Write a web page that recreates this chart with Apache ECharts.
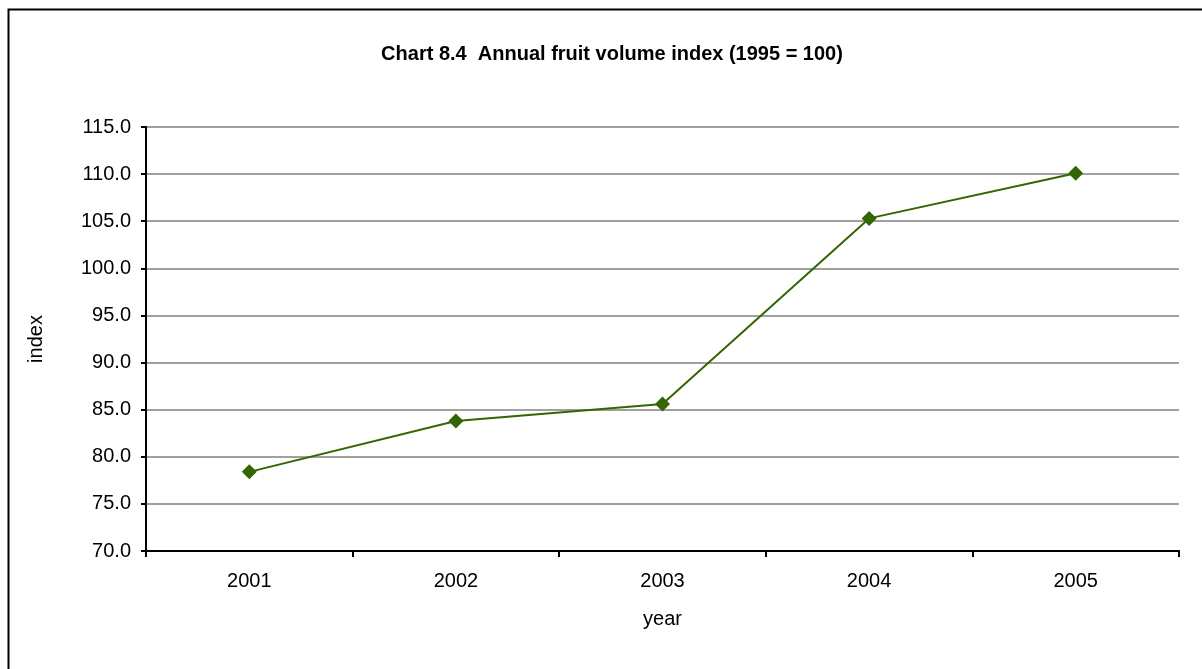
<!DOCTYPE html>
<html>
<head>
<meta charset="utf-8">
<script src="https://cdn.jsdelivr.net/npm/echarts@6/dist/echarts.min.js"></script>
<style>html,body{margin:0;padding:0;background:#fff;}#c{width:1202px;height:669px;}</style>
</head>
<body>
<div id="c"></div>
<script>
var years = ['2001', '2002', '2003', '2004', '2005'];
var indexValues = [78.4, 83.8, 85.6, 105.3, 110.1];
var titleText = 'Chart 8.4  Annual fruit volume index (1995 = 100)';

var chart = echarts.init(document.getElementById('c'), null, {renderer: 'canvas'});
var font = '"Liberation Sans", Arial, sans-serif';
chart.setOption({
  animation: false,
  backgroundColor: '#ffffff',
  title: {
    text: titleText, left: 607, top: 39, textAlign: 'center',
    textStyle: {fontFamily: font, fontWeight: 'bold', fontSize: 20, color: '#000'}
  },
  graphic: [{
    type: 'rect', left: 6, top: 7, silent: true,
    shape: {x: 0, y: 0, width: 1300, height: 800},
    style: {fill: 'none', stroke: '#000', lineWidth: 2}
  }],
  grid: {left: 146, right: 23, top: 127, bottom: 118, containLabel: false},
  xAxis: {
    type: 'category', data: years, boundaryGap: true,
    name: 'year', nameLocation: 'middle', nameGap: 58,
    nameTextStyle: {fontFamily: font, fontSize: 20, color: '#000'},
    axisLine: {show: true, lineStyle: {color: '#000', width: 2}},
    axisTick: {show: true, alignWithLabel: false, length: 6, lineStyle: {color: '#000', width: 2}},
    axisLabel: {fontFamily: font, fontSize: 20, color: '#000', margin: 20},
    splitLine: {show: false}
  },
  yAxis: {
    type: 'value', min: 70, max: 115, interval: 5,
    name: 'index', nameLocation: 'middle', nameGap: 100, nameRotate: 90,
    nameTextStyle: {fontFamily: font, fontSize: 20, color: '#000'},
    axisLine: {show: true, lineStyle: {color: '#000', width: 2}},
    axisTick: {show: true, length: 5, lineStyle: {color: '#000', width: 2}},
    axisLabel: {fontFamily: font, fontSize: 20, color: '#000', margin: 15,
      formatter: function (v) { return v.toFixed(1); }},
    splitLine: {show: true, lineStyle: {color: '#a0a0a0', width: 2}}
  },
  series: [{
    type: 'line', data: indexValues,
    symbol: 'diamond', symbolSize: 15,
    lineStyle: {color: '#336600', width: 2},
    itemStyle: {color: '#336600'}
  }]
});
</script>
</body>
</html>
